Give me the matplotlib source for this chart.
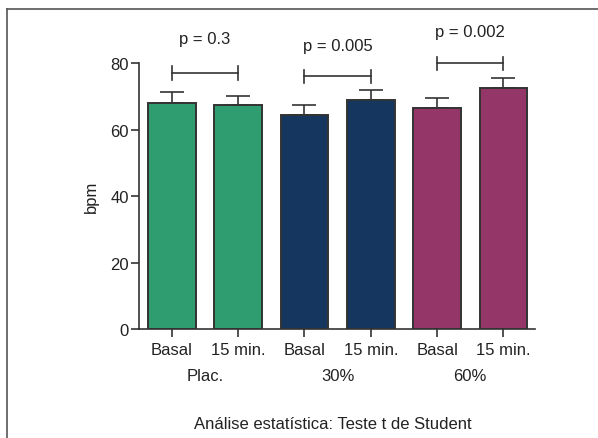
import numpy as np
import matplotlib
matplotlib.use('Agg')
import matplotlib.pyplot as plt
from matplotlib.lines import Line2D

plt.rcParams['font.family'] = ['Liberation Sans Narrow', 'Liberation Sans', 'DejaVu Sans']

# data
conditions = ['Basal', '15 min.', 'Basal', '15 min.', 'Basal', '15 min.']
groups = ['Plac.', '30%', '60%']
means = [68.2, 67.4, 64.4, 69.0, 66.6, 72.6]
sem = [3.3, 2.9, 3.2, 3.1, 3.1, 3.1]
pvalues = ['p = 0.3', 'p = 0.005', 'p = 0.002']
bracket_y = [77.1, 76.1, 80.0]
ptext_y = [87.6, 85.3, 89.6]
colors = ['#2f9d70', '#2f9d70', '#15375f', '#15375f', '#943668', '#943668']

x = np.arange(len(means))

fig = plt.figure(figsize=(5.98, 4.39), dpi=100)
ax = fig.add_axes([0.233, 0.248, 0.662, 0.6055])

ax.bar(x, means, width=0.72, color=colors, edgecolor='#333333', linewidth=1.4, zorder=2)
ax.errorbar(x, means, yerr=[np.zeros(len(sem)), sem], fmt='none', ecolor='#333333',
            elinewidth=1.2, capsize=8.5, capthick=1.2, zorder=1)

# significance brackets
for i in range(3):
    x0, x1 = x[2 * i], x[2 * i + 1]
    yb = bracket_y[i]
    ax.plot([x0, x1], [yb, yb], color='#333333', lw=1.2, clip_on=False)
    ax.plot([x0, x0], [yb - 2, yb + 2], color='#333333', lw=1.2, clip_on=False)
    ax.plot([x1, x1], [yb - 2, yb + 2], color='#333333', lw=1.2, clip_on=False)
    ax.text((x0 + x1) / 2, ptext_y[i], pvalues[i], ha='center', va='center',
            fontsize=12, color='#222222', clip_on=False)

ax.set_xlim(-0.49, 5.48)
ax.set_ylim(0, 80)
ax.set_yticks([0, 20, 40, 60, 80])
ax.set_xticks(x)
ax.set_xticklabels(conditions)
ax.tick_params(axis='both', direction='out', length=5.5, width=1.2, color='#333333',
               labelsize=12, labelcolor='#222222', pad=2)
ax.tick_params(axis='x', pad=4)
for s in ['top', 'right']:
    ax.spines[s].set_visible(False)
for s in ['left', 'bottom']:
    ax.spines[s].set_linewidth(1.2)
    ax.spines[s].set_color('#333333')
ax.set_ylabel('bpm', fontsize=12, color='#222222', labelpad=8)

# group labels under the tick labels
for i, g in enumerate(groups):
    xc = (x[2 * i] + x[2 * i + 1]) / 2
    ax.text(xc, -0.175, g, transform=ax.get_xaxis_transform(), ha='center', va='center',
            fontsize=12, color='#222222')

fig.text(333 / 598, 1 - 425 / 439, 'Análise estatística: Teste t de Student',
         ha='center', va='center', fontsize=12, color='#222222')

# frame around the figure panel (left and top edges visible)
fig.add_artist(Line2D([7 / 598, 7 / 598], [0, 1 - 10 / 439], transform=fig.transFigure,
                      color='#555555', lw=1.2))
fig.add_artist(Line2D([7 / 598, 1], [1 - 10 / 439, 1 - 10 / 439], transform=fig.transFigure,
                      color='#555555', lw=1.2))

fig.savefig('out.png', dpi=100)
